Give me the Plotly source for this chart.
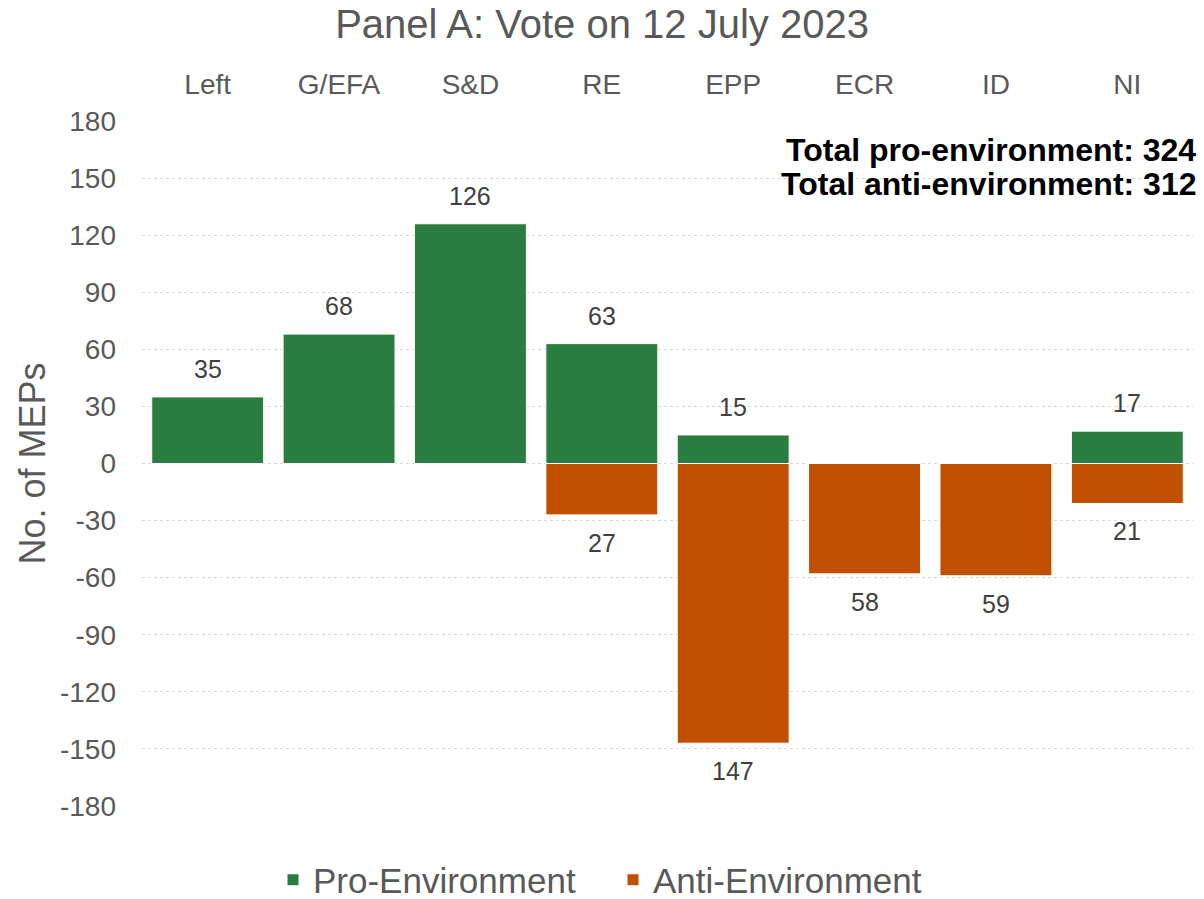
import plotly.graph_objects as go

categories = ["Left", "G/EFA", "S&D", "RE", "EPP", "ECR", "ID", "NI"]
pro_env = [35, 68, 126, 63, 15, 0, 0, 17]
anti_env = [0, 0, 0, 27, 147, 58, 59, 21]
y_ticks = [-180, -150, -120, -90, -60, -30, 0, 30, 60, 90, 120, 150, 180]
y_tick_labels = ["-180", "-150", "-120", "-90", "-60", "-30", "0", "30", "60", "90", "120", "150", "180"]
total_pro = 324
total_anti = 312

GREEN = "#2A7D40"
ORANGE = "#C05000"
GRAY = "#595959"
FONT = "Liberation Sans, Arial, sans-serif"

PL, PR, PT, PB = 142, 1193, 121, 806


def px_x(p):
    return (p - PL) / (PR - PL)


def px_y(p):
    return (PB - p) / (PB - PT)


fig = go.Figure()
fig.add_trace(go.Bar(
    x=categories, y=pro_env, name="Pro-Environment",
    marker=dict(color=GREEN, line=dict(color="white", width=1)),
))
fig.add_trace(go.Bar(
    x=categories, y=[-v for v in anti_env], name="Anti-Environment",
    marker=dict(color=ORANGE, line=dict(color="white", width=1)),
))

annotations = []
for c, v in zip(categories, pro_env):
    if v > 0:
        annotations.append(dict(x=c, y=v, xref="x", yref="y", text=str(v),
                                showarrow=False, yshift=28,
                                font=dict(size=25, color="#404040", family=FONT)))
for c, v in zip(categories, anti_env):
    if v > 0:
        annotations.append(dict(x=c, y=-v, xref="x", yref="y", text=str(v),
                                showarrow=False, yshift=-28,
                                font=dict(size=25, color="#404040", family=FONT)))

annotations.append(dict(x=px_x(1198), y=px_y(150), xref="paper", yref="paper",
                        text=f"<b>Total pro-environment: {total_pro}</b>", showarrow=False,
                        xanchor="right", yanchor="middle",
                        font=dict(size=32, color="black", family=FONT)))
annotations.append(dict(x=px_x(1198), y=px_y(184), xref="paper", yref="paper",
                        text=f"<b>Total anti-environment: {total_anti}</b>", showarrow=False,
                        xanchor="right", yanchor="middle",
                        font=dict(size=32, color="black", family=FONT)))

fig.update_layout(
    width=1204, height=899,
    margin=dict(l=PL, r=1204 - PR, t=PT, b=899 - PB),
    barmode="overlay",
    bargap=0.148,
    plot_bgcolor="white", paper_bgcolor="white",
    font=dict(family=FONT, color=GRAY),
    title=dict(text="Panel A: Vote on 12 July 2023", x=0.5, xref="container",
               y=1 - 24 / 899, yref="container", xanchor="center", yanchor="middle",
               font=dict(size=40, color=GRAY, family=FONT)),
    xaxis=dict(side="top", showgrid=False, showline=False, ticks="",
               tickfont=dict(size=28, color=GRAY), ticklabelstandoff=20),
    yaxis=dict(range=[-180, 180], tickvals=y_ticks, ticktext=y_tick_labels,
               showgrid=True, gridcolor="#D9D9D9",
               griddash="dot", gridwidth=1, zeroline=False, showline=False,
               tickfont=dict(size=28, color=GRAY), ticklabelstandoff=25,
               title=dict(text="No. of MEPs", font=dict(size=36, color=GRAY), standoff=3)),
    legend=dict(orientation="h", x=(600 + 13) / 1204, xref="container", xanchor="center",
                y=1 - 880 / 899, yref="container", yanchor="middle",
                entrywidth=295, entrywidthmode="pixels",
                font=dict(size=35, color=GRAY), traceorder="normal"),
    annotations=annotations,
)

fig.write_html("out.html")
